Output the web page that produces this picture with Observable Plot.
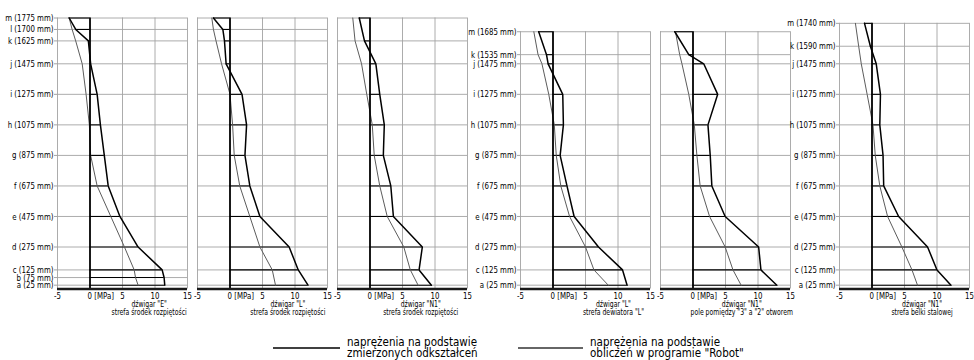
<!DOCTYPE html>
<html><head><meta charset="utf-8">
<script src="https://cdn.jsdelivr.net/npm/d3@7"></script>
<script src="https://cdn.jsdelivr.net/npm/@observablehq/plot@0.6"></script>
<style>
html,body{margin:0;padding:0;background:#fff;}
#chart{position:relative;width:974px;height:360px;overflow:hidden;font-family:"Liberation Sans Narrow","DejaVu Sans Condensed",sans-serif;}
#chart svg{position:absolute;top:0;}
</style></head><body><div id="chart"></div>
<script>
// ---- data ----
const levelsA = [1775,1700,1625,1475,1275,1075,875,675,475,275,125,75,25];
const levelsB = [1775,1700,1625,1475,1275,1075,875,675,475,275,125,25];
const levelsC = [1775,1625,1475,1275,1075,875,675,475,275,125,25];
const levelsD = [1685,1535,1475,1275,1075,875,675,475,275,125,25];
const levelsF = [1740,1590,1475,1275,1075,875,675,475,275,125,25];

const labelsA = ["m (1775 mm)","l (1700 mm)","k (1625 mm)","j (1475 mm)","i (1275 mm)","h (1075 mm)","g (875 mm)","f (675 mm)","e (475 mm)","d (275 mm)","c (125 mm)","b (75 mm)","a (25 mm)"];
const labelsD = ["m (1685 mm)","k (1535 mm)","j (1475 mm)","i (1275 mm)","h (1075 mm)","g (875 mm)","f (675 mm)","e (475 mm)","d (275 mm)","c (125 mm)","a (25 mm)"];
const labelsF = ["m (1740 mm)","k (1590 mm)","j (1475 mm)","i (1275 mm)","h (1075 mm)","g (875 mm)","f (675 mm)","e (475 mm)","d (275 mm)","c (125 mm)","a (25 mm)"];

// measured (black) and Robot (grey) stresses [MPa]
const measE   = [-3.2,-2.2,-0.25,0.1,1.1,1.6,2.2,2.8,4.6,7.4,11.1,11.4,11.5];
const robotE  = [-3.2,-2.75,-2.2,-1.2,-0.6,-0.1,0.1,1.1,3.2,5.3,6.8,7.0,7.4];
const measL   = [-2.55,-1.1,-0.85,-0.6,1.85,2.55,2.3,3.05,4.6,9.1,10.5,12.0];
const robotL  = [-2.8,-2.55,-2.15,-1.3,0,0.4,0.65,1.5,3.05,4.6,6.5,7.0];
const measN1  = [-1.65,-0.85,0.9,1.5,2.2,2.05,3.2,3.6,8.05,7.55,9.45];
const robotN1 = [-2.65,-2.3,-1.3,-0.5,0.35,0.65,1.5,2.65,5.2,6.2,7.4];
const measLd  = [-2.2,-1.0,-0.75,1.5,1.6,1.1,2.15,3.25,7.0,10.7,11.4];
const robotLd = [-2.95,-2.3,-1.7,-0.65,0.2,0.5,1.2,2.55,5.0,6.3,8.5];
const measN1p = [-2.8,-0.65,1.65,3.8,2.3,2.65,2.9,4.95,10.1,10.45,12.9];
const robotN1p= [-2.7,-2.05,-1.7,-0.65,0.2,0.6,1.1,2.55,4.95,6.15,7.4];
const measN1s = [-1.15,-0.25,0.65,1.3,1.2,1.7,1.8,4.1,8.55,10.0,12.15];
const robotN1s= [-2.55,-2.05,-1.65,-0.75,0.15,0.5,1.2,2.4,4.6,6.15,7.0];

const xTicks = [-5,0,5,10,15];
const xTickLabels = ["-5","0 [MPa]","5","10","15"];
const gridX = [-5,5,10,15];

const captions = [
  'dźwigar "E"\nstrefa środek rozpiętości',
  'dźwigar "L"\nstrefa środek rozpiętości',
  'dźwigar "N1"\nstrefa środek rozpiętości',
  'dźwigar "L"\nstrefa dewiatora "L"',
  'dźwigar "N1"\npole pomiędzy "3" a "2" otworem',
  'dźwigar "N1"\nstrefa belki stalowej'
];
const legendLabels = [
  ["naprężenia na podstawie","zmierzonych odkształceń"],
  ["naprężenia na podstawie",'obliczeń w programie "Robot"']
];

// ---- layout ----
const font = '"Liberation Sans Narrow","DejaVu Sans Condensed",sans-serif';
const H = 325, MT = 17.5, MB = 36.5, PW = 130;
const squeeze = 0.82;
const panels = [
  {levels: levelsA, labels: labelsA, measured: measE,   robot: robotE,   caption: captions[0], left: 56.7, capX: 9.1},
  {levels: levelsB, labels: null,    measured: measL,   robot: robotL,   caption: captions[1], left: 197.3, capX: 8.9},
  {levels: levelsC, labels: null,    measured: measN1,  robot: robotN1,  caption: captions[2], left: 337.3, capX: 7.8},
  {levels: levelsD, labels: labelsD, measured: measLd,  robot: robotLd,  caption: captions[3], left: 520, capX: 9.3},
  {levels: levelsD, labels: null,    measured: measN1p, robot: robotN1p, caption: captions[4], left: 660, capX: 7.5},
  {levels: levelsF, labels: labelsF, measured: measN1s, robot: robotN1s, caption: captions[5], left: 839, capX: 7.7}
];

const chart = document.getElementById("chart");

function condense(svg, f) {
  svg.querySelectorAll("text").forEach(t => {
    const spans = t.querySelectorAll("tspan");
    const els = spans.length ? Array.from(spans) : [t];
    els.forEach(e => {
      const len = e.getComputedTextLength();
      if (len > 0) {
        e.setAttribute("textLength", (len * f).toFixed(2));
        e.setAttribute("lengthAdjust", "spacingAndGlyphs");
      }
    });
  });
}

panels.forEach(p => {
  const rows = p.levels.map((y, i) => ({y, m: p.measured[i], r: p.robot[i]}));
  const top = p.levels[0];
  const mL = p.labels ? 62 : 8, mR = 8;
  const tickRows = xTicks.map((v, i) => ({v, t: xTickLabels[i]}));
  const marks = [
    Plot.ruleY(p.levels, {x1: -5, x2: 15, stroke: "#a3a3a3", strokeWidth: 0.9}),
    Plot.ruleX(gridX, {y1: 0, y2: top, stroke: "#a3a3a3", strokeWidth: 0.9}),
    Plot.ruleY(rows, {y: "y", x1: 0, x2: "m", stroke: "#000", strokeWidth: 1.1}),
    Plot.line(rows, {x: "r", y: "y", stroke: "#5c5c5c", strokeWidth: 1}),
    Plot.line(rows, {x: "m", y: "y", stroke: "#000", strokeWidth: 1.5}),
    Plot.ruleX([0], {y1: 0, y2: top, stroke: "#000", strokeWidth: 1.8}),
    Plot.ruleY([0], {x1: -5, x2: 15, stroke: "#1a1a1a", strokeWidth: 2.6}),
    Plot.text(tickRows.filter(d => d.v !== 0), {x: "v", text: "t", frameAnchor: "bottom", lineAnchor: "top", dy: 3, fontSize: 9.5, fill: "#000"}),
    Plot.text(tickRows.filter(d => d.v === 0), {x: "v", text: "t", frameAnchor: "bottom", lineAnchor: "top", textAnchor: "start", dy: 3, dx: -2.4, fontSize: 9.5, fill: "#000"}),
    Plot.text([p.caption], {x: () => p.capX, text: d => d, frameAnchor: "bottom", lineAnchor: "top", dy: 12.3, fontSize: 8.3, lineHeight: 0.96, fill: "#000"})
  ];
  if (p.labels) {
    const lab = new Map(p.levels.map((v, i) => [v, p.labels[i]]));
    marks.push(Plot.axisY({ticks: p.levels, tickFormat: d => lab.get(d), label: null, tickSize: 3, tickPadding: 1, stroke: "#a3a3a3", fill: "#000", fontSize: 9.5}));
  }
  const svg = Plot.plot({
    width: mL + PW + mR, height: H,
    marginLeft: mL, marginRight: mR, marginTop: MT, marginBottom: MB,
    x: {domain: [-5, 15], axis: null},
    y: p.labels ? {domain: [0, 1775], label: null} : {domain: [0, 1775], axis: null},
    style: {background: "transparent", overflow: "visible", fontFamily: font, maxWidth: "none"},
    marks
  });
  svg.style.position = "absolute";
  svg.style.top = "0px";
  svg.style.left = (p.left - mL) + "px";
  chart.appendChild(svg);
  condense(svg, squeeze);
});

// ---- legend ----
const legendPos = [{x1: 273, x2: 340, tx: 347, w: 1.6, c: "#000"}, {x1: 518, x2: 583, tx: 590, w: 1.3, c: "#333"}];
const leg = d3.select(chart).append("svg")
  .attr("width", 974).attr("height", 360)
  .style("left", "0px").style("top", "0px").style("position", "absolute")
  .style("font-family", font);
legendLabels.forEach((lines, i) => {
  const L = legendPos[i];
  leg.append("line").attr("x1", L.x1).attr("x2", L.x2).attr("y1", 348).attr("y2", 348)
    .attr("stroke", L.c).attr("stroke-width", L.w);
  lines.forEach((t, j) => {
    leg.append("text").attr("x", L.tx).attr("y", 346 + j * 11)
      .attr("font-size", 11.5).attr("fill", "#000").text(t);
  });
});
condense(leg.node(), 1);
</script></body></html>
